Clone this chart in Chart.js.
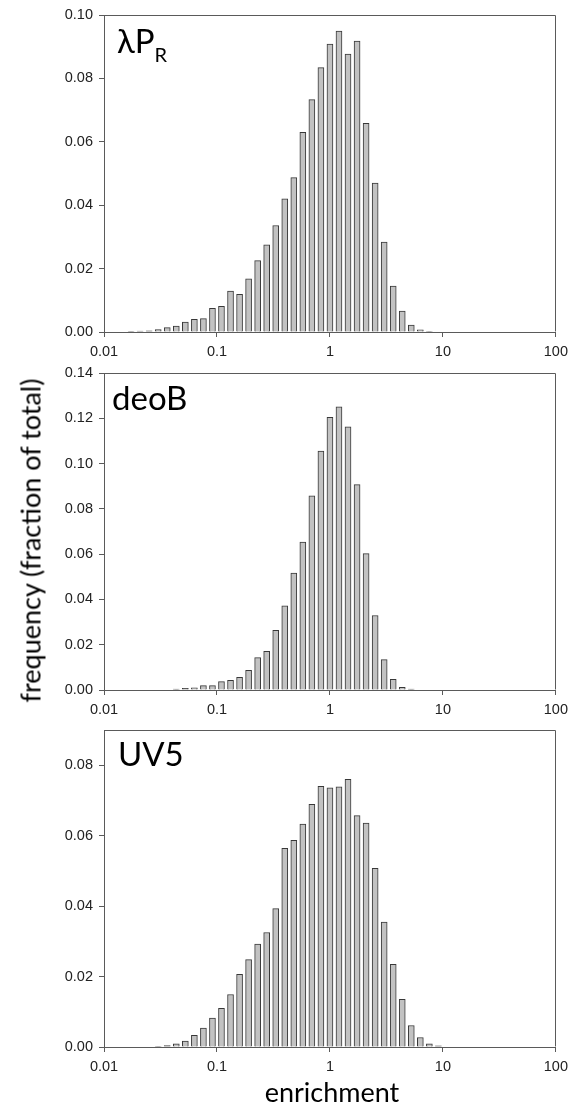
<!DOCTYPE html>
<html>
<head>
<meta charset="utf-8">
<script src="https://cdn.jsdelivr.net/npm/chart.js@4/dist/chart.umd.min.js"></script>
<style>
html,body{margin:0;padding:0;background:#fff;width:574px;height:1107px;overflow:hidden;}
.wrap{position:absolute;left:0;width:574px;height:362px;}
.lbl{position:absolute;font-family:Lato,'Noto Sans',sans-serif;color:#000;white-space:nowrap;line-height:1;}
</style>
</head>
<body>
<div class="wrap" style="top:0px"><canvas id="c0" width="574" height="362"></canvas></div>
<div class="wrap" style="top:358px"><canvas id="c1" width="574" height="362"></canvas></div>
<div class="wrap" style="top:715px"><canvas id="c2" width="574" height="362"></canvas></div>

<div class="lbl" style="left:117px;top:24px;font-size:33px;">λP<span style="font-size:20px;position:relative;top:9px;">R</span></div>
<div class="lbl" style="left:112px;top:381px;font-size:33px;">deoB</div>
<div class="lbl" style="left:118px;top:737px;font-size:33px;">UV5</div>
<div class="lbl" style="left:-220px;top:527px;width:500px;height:27px;line-height:27px;text-align:center;font-size:27px;transform:rotate(-90deg);">frequency (fraction of total)</div>
<div class="lbl" style="left:232px;top:1078px;width:200px;text-align:center;font-size:27px;">enrichment</div>

<script>
// bin centres (enrichment), shared by all three histograms
const enrichment = [0.01738, 0.02089, 0.02512, 0.03020, 0.03631, 0.04365, 0.05248, 0.06310, 0.07586, 0.09120,
                    0.1096, 0.1318, 0.1585, 0.1905, 0.2291, 0.2754, 0.3311, 0.3981, 0.4786, 0.5754,
                    0.6918, 0.8318, 1.000, 1.202, 1.445, 1.738, 2.089, 2.512, 3.020, 3.631,
                    4.365, 5.248, 6.310, 7.586, 9.120];

// frequency (fraction of total) for each promoter
const lambdaPR = [0.0002, 0.0003, 0.0004, 0.0008, 0.0014, 0.0019, 0.0031, 0.0040, 0.0042, 0.0075,
                  0.0081, 0.0129, 0.0119, 0.0168, 0.0225, 0.0275, 0.0336, 0.0420, 0.0487, 0.0630,
                  0.0733, 0.0834, 0.0908, 0.0949, 0.0877, 0.0918, 0.0658, 0.0470, 0.0284, 0.0145,
                  0.0066, 0.0022, 0.0007, 0.0002, null];
const deoB = [null, null, null, null, null, 0.0004, 0.0007, 0.0010, 0.0019, 0.0019,
              0.0037, 0.0043, 0.0056, 0.0087, 0.0143, 0.0171, 0.0264, 0.0372, 0.0516, 0.0653,
              0.0857, 0.1055, 0.1204, 0.1251, 0.1162, 0.0907, 0.0602, 0.0329, 0.0134, 0.0047,
              0.0012, 0.0004, null, null, null];
const uv5 = [null, null, null, 0.0001, 0.0004, 0.0009, 0.0017, 0.0033, 0.0054, 0.0082,
             0.0110, 0.0149, 0.0206, 0.0248, 0.0292, 0.0325, 0.0393, 0.0564, 0.0587, 0.0633,
             0.0689, 0.0740, 0.0736, 0.0739, 0.0760, 0.0657, 0.0636, 0.0507, 0.0355, 0.0235,
             0.0135, 0.0061, 0.0027, 0.0009, 0.0003];

// tick labels
const xTickValues = [0.01, 0.1, 1, 10, 100];
const yTicksLambda = [0, 0.02, 0.04, 0.06, 0.08, 0.10];
const yTicksDeoB = [0, 0.02, 0.04, 0.06, 0.08, 0.10, 0.12, 0.14];
const yTicksUV5 = [0, 0.02, 0.04, 0.06, 0.08];
const yMaxLambda = 0.10, yMaxDeoB = 0.14, yMaxUV5 = 0.09;

const AXIS = '#5a5a5a';
const TICKFONT = {family: "'Liberation Sans', Arial, sans-serif", size: 14.5};

const framePlugin = {
  id: 'frame',
  afterDraw(chart) {
    const {ctx, chartArea: a} = chart;
    ctx.save();
    ctx.strokeStyle = AXIS;
    ctx.lineWidth = 1;
    const l = Math.round(a.left) + 0.5, r = Math.round(a.right) - 0.5;
    const t = Math.round(a.top) + 0.5, b = Math.round(a.bottom) - 0.5;
    ctx.beginPath();
    ctx.moveTo(l, t); ctx.lineTo(r, t); ctx.lineTo(r, b);
    ctx.stroke();
    ctx.restore();
  }
};

function makeChart(id, values, yTicks, yMax) {
  const pts = [];
  enrichment.forEach((x, i) => { if (values[i] !== null) pts.push({x: x, y: values[i]}); });
  return new Chart(document.getElementById(id), {
    type: 'bar',
    data: {datasets: [{
      data: pts,
      backgroundColor: '#c2c2c2',
      borderColor: '#383838',
      borderWidth: 1,
      barThickness: 6,
      borderSkipped: 'start'
    }]},
    options: {
      responsive: false,
      animation: false,
      events: [],
      layout: {padding: {top: 15, right: 13, left: 0, bottom: 0}},
      plugins: {legend: {display: false}, tooltip: {enabled: false}},
      scales: {
        x: {
          type: 'logarithmic', min: 0.01, max: 100, offset: false,
          afterBuildTicks: s => { s.ticks = xTickValues.map(v => ({value: v})); },
          afterFit: s => { s.height = 30; },
          ticks: {callback: v => String(v), color: '#222', font: TICKFONT, padding: 6, maxRotation: 0, autoSkip: false},
          grid: {display: true, offset: false, drawOnChartArea: false, drawTicks: true, tickLength: 5, color: AXIS},
          border: {display: true, color: AXIS}
        },
        y: {
          type: 'linear', min: 0, max: yMax,
          afterBuildTicks: s => { s.ticks = yTicks.map(v => ({value: v})); },
          afterFit: s => { s.width = 104; },
          ticks: {callback: v => Number(v).toFixed(2), color: '#222', font: TICKFONT, padding: 6},
          grid: {display: true, drawOnChartArea: false, drawTicks: true, tickLength: 5, color: AXIS},
          border: {display: true, color: AXIS}
        }
      }
    },
    plugins: [framePlugin]
  });
}

makeChart('c0', lambdaPR, yTicksLambda, yMaxLambda);
makeChart('c1', deoB, yTicksDeoB, yMaxDeoB);
makeChart('c2', uv5, yTicksUV5, yMaxUV5);
</script>
</body>
</html>
